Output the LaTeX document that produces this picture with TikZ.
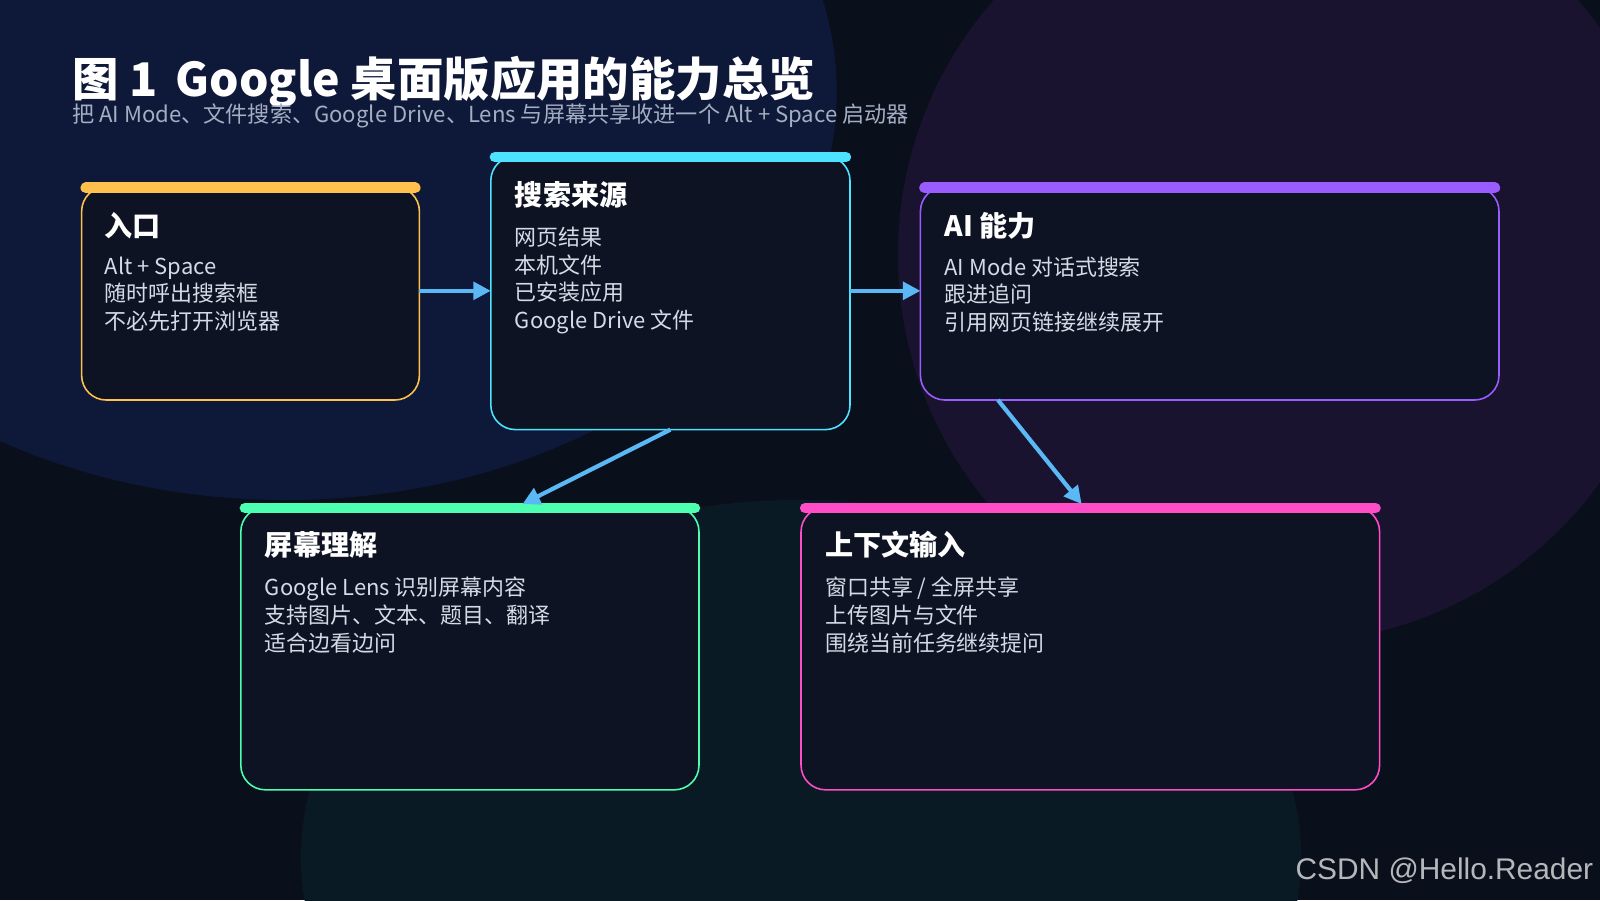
\documentclass[tikz,border=0pt]{standalone}
\usepackage{fontspec}
\setmainfont{Noto Sans CJK SC}
\newfontfamily\wm{Liberation Sans}
\usetikzlibrary{arrows.meta}
\definecolor{bg}{HTML}{0A0F1C}
\definecolor{cA}{HTML}{0E1838}
\definecolor{cB}{HTML}{1A1330}
\definecolor{cC}{HTML}{0A1A24}
\definecolor{boxbg}{HTML}{0D1322}
\definecolor{cy}{HTML}{FFC04D}
\definecolor{cc}{HTML}{4DE3FF}
\definecolor{cp}{HTML}{9B5CFF}
\definecolor{cg}{HTML}{4DFFB0}
\definecolor{ck}{HTML}{FF4DC8}
\definecolor{arr}{HTML}{5AB8F5}
\definecolor{sub}{HTML}{A3AEC2}
\definecolor{txt}{HTML}{D5DBE6}
\tikzset{
 card/.style={draw=#1, line width=0.45pt, fill=boxbg, rounded corners=7pt},
 bar/.style={line width=3pt, draw=#1, line cap=round},
 head/.style={anchor=north west, inner sep=0pt, text=white, font=\fontsize{8}{10}\selectfont\bfseries},
 body/.style={anchor=north west, inner sep=0pt, text=txt, align=left, font=\fontsize{6.25}{7.85}\selectfont},
 conn/.style={draw=arr, line width=1.2pt, -{Triangle[length=5pt,width=5pt]}}
}
\begin{document}
\begin{tikzpicture}[x=0.010204cm,y=-0.010204cm]
\useasboundingbox (0,0) rectangle (1568,882);
\fill[bg] (0,0) rectangle (1568,882);
\begin{scope}
\clip (0,0) rectangle (1568,882);
\fill[cA] (280,90) ellipse [x radius=540, y radius=400];
\fill[cB] (1260,250) circle [radius=380];
\fill[cC] (785,840) ellipse [x radius=490, y radius=350];
\end{scope}
\node[anchor=west,inner sep=0pt,text=white,font=\fontsize{13.2}{16}\selectfont\bfseries] (title) at (70,80) {图 1\, Google 桌面版应用的能力总览};
\node[anchor=west,inner sep=0pt,text=sub,font=\fontsize{6.3}{8}\selectfont] (subt) at (70,114) {把 AI Mode、文件搜索、Google Drive、Lens 与屏幕共享收进一个 Alt + Space 启动器};
% cards
\path[card=cy] (80,183) rectangle (411,392);
\draw[bar=cy] (84,184) -- (407,184);
\node[head] (h1) at (102,207) {入口};
\node[body] (t1) at (102,251) {Alt + Space\\随时呼出搜索框\\不必先打开浏览器};
\path[card=cc] (481,153) rectangle (833,421);
\draw[bar=cc] (485,154) -- (829,154);
\node[head] (h2) at (504,177) {搜索来源};
\node[body] (t2) at (504,222) {网页结果\\本机文件\\已安装应用\\Google Drive 文件};
\path[card=cp] (902,183) rectangle (1469,392);
\draw[bar=cp] (906,184) -- (1465,184);
\node[head] (h3) at (925,207) {AI 能力};
\node[body] (t3) at (925,251) {AI Mode 对话式搜索\\跟进追问\\引用网页链接继续展开};
\path[card=cg] (236,497) rectangle (685,774);
\draw[bar=cg] (240,498) -- (681,498);
\node[head] (h4) at (259,520) {屏幕理解};
\node[body] (t4) at (259,565) {Google Lens 识别屏幕内容\\支持图片、文本、题目、翻译\\适合边看边问};
\path[card=ck] (785,497) rectangle (1352,774);
\draw[bar=ck] (789,498) -- (1348,498);
\node[head] (h5) at (808,520) {上下文输入};
\node[body] (t5) at (808,565) {窗口共享 / 全屏共享\\上传图片与文件\\围绕当前任务继续提问};
% connectors
\coordinate (a1) at (411,285); \coordinate (a2) at (481,285);
\coordinate (a3) at (833,285); \coordinate (a4) at (902,285);
\coordinate (a5) at (657,421); \coordinate (a6) at (512,494);
\coordinate (a7) at (978,392); \coordinate (a8) at (1060,494);
\draw[conn] (a1) -- (a2);
\draw[conn] (a3) -- (a4);
\draw[conn] (a5) -- (a6);
\draw[conn] (a7) -- (a8);
\node[anchor=east,inner sep=0pt,text=white!70!bg,font=\wm\fontsize{8.5}{10}\selectfont] (wm) at (1562,853) {CSDN @Hello.Reader};
\end{tikzpicture}
\end{document}
